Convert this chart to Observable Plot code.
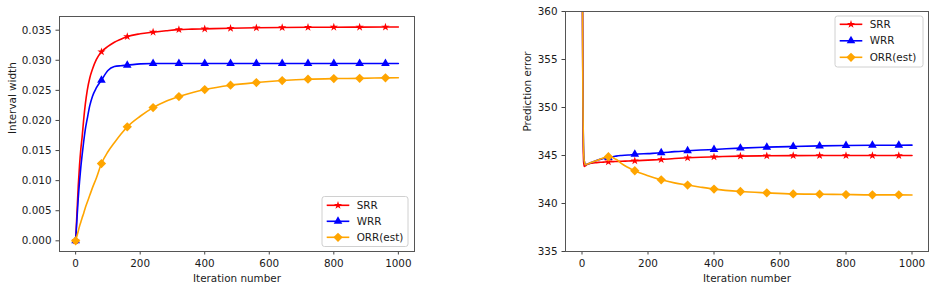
<!DOCTYPE html>
<html>
<head>
<meta charset="utf-8">
<script src="https://cdn.jsdelivr.net/npm/d3@7"></script>
<script src="https://cdn.jsdelivr.net/npm/@observablehq/plot@0.6"></script>
<style>
  html, body { margin: 0; padding: 0; background: #fff; }
  #wrap { position: relative; width: 935px; height: 289px; overflow: hidden; font-family: "DejaVu Sans", sans-serif; }
  #wrap > svg, #wrap > figure { position: absolute; top: 0; margin: 0; }
</style>
</head>
<body>
<div id="wrap"></div>
<script>
// ---------- data ----------
const seriesNames = ["SRR", "WRR", "ORR(est)"];
const seriesColors = ["red", "blue", "orange"];
const seriesSymbols = ["star", "triangle", "diamond2"];
const seriesRadius = [2.6, 3.2, 4.2];

const xTicks = [0, 200, 400, 600, 800, 1000];
const leftYTicks = [0, 0.005, 0.01, 0.015, 0.02, 0.025, 0.03, 0.035];
const rightYTicks = [335, 340, 345, 350, 355, 360];

// Left panel: interval width
const iterL = [0, 4, 8, 12, 16, 20, 25, 30, 36, 44, 52, 64, 80, 100, 120, 140, 160, 200, 240, 280, 320, 360, 400, 480, 560, 640, 720, 800, 880, 960, 1000];
const srrL = [0, 0.0045, 0.0090, 0.0125, 0.0152, 0.0172, 0.0202, 0.0227, 0.0250, 0.0271, 0.0285, 0.0301, 0.0314, 0.0323, 0.0330, 0.0335, 0.03394, 0.0344, 0.03467, 0.0349, 0.0351, 0.03517, 0.03522, 0.03532, 0.0354, 0.03545, 0.03548, 0.0355, 0.03551, 0.03552, 0.03553];
const wrrL = [0, 0.0035, 0.0070, 0.0098, 0.0122, 0.0142, 0.0165, 0.0185, 0.0203, 0.0225, 0.0240, 0.0254, 0.0267, 0.0283, 0.02895, 0.0291, 0.02918, 0.0294, 0.02946, 0.02946, 0.02946, 0.02946, 0.02946, 0.02946, 0.02946, 0.02946, 0.02946, 0.02946, 0.02946, 0.02946, 0.02946];
const orrL = [0, 0.0008, 0.0016, 0.0024, 0.0031, 0.0038, 0.0046, 0.0055, 0.0064, 0.0076, 0.0088, 0.0104, 0.01284, 0.0148, 0.0163, 0.0177, 0.01894, 0.0207, 0.02214, 0.0232, 0.02397, 0.0246, 0.02513, 0.02586, 0.0263, 0.02663, 0.02686, 0.02696, 0.0270, 0.02708, 0.0271];

// Right panel: prediction error
const iterR = [0, 1, 3, 5, 7, 11, 15, 20, 30, 40, 50, 60, 70, 80, 90, 100, 110, 120, 140, 160, 200, 240, 280, 320, 360, 400, 480, 560, 640, 720, 800, 880, 960, 1000];
const srrR = [420, 365, 348, 344.3, 343.85, 343.95, 344.05, 344.12, 344.2, 344.25, 344.28, 344.3, 344.32, 344.34, 344.36, 344.37, 344.39, 344.4, 344.43, 344.45, 344.52, 344.58, 344.68, 344.76, 344.82, 344.86, 344.94, 344.97, 344.99, 345.0, 345.0, 345.0, 345.0, 345.0];
const wrrR = [420, 365, 350, 345.5, 344.4, 344.03, 344.08, 344.15, 344.3, 344.42, 344.55, 344.65, 344.73, 344.8, 344.87, 344.92, 344.97, 345.0, 345.05, 345.12, 345.2, 345.28, 345.4, 345.49, 345.57, 345.63, 345.77, 345.87, 345.94, 346.0, 346.04, 346.06, 346.07, 346.08];
const orrR = [420, 365, 350, 345.5, 344.4, 344.03, 344.08, 344.15, 344.3, 344.42, 344.55, 344.68, 344.8, 344.87, 344.83, 344.65, 344.45, 344.15, 343.75, 343.41, 342.9, 342.47, 342.15, 341.92, 341.7, 341.5, 341.25, 341.11, 341.0, 340.97, 340.93, 340.9, 340.9, 340.88];

// ---------- helpers ----------
function rowsFor(iters, vals) {
  return iters.map((it, i) => ({it, v: vals[i]}));
}
const isMark = d => d.it % 80 === 0 && d.it <= 960;

function seriesMarks(iters, valArrays) {
  const marks = [];
  valArrays.forEach((vals, k) => {
    const rows = rowsFor(iters, vals);
    marks.push(Plot.line(rows, {x: "it", y: "v", stroke: seriesColors[k], strokeWidth: 1.6, curve: "monotone-x", clip: true}));
    marks.push(Plot.dot(rows.filter(isMark), {x: "it", y: "v", symbol: seriesSymbols[k], r: seriesRadius[k], fill: seriesColors[k], stroke: "none", clip: true}));
  });
  return marks;
}

const commonStyle = {fontFamily: "DejaVu Sans, sans-serif", fontSize: "10.4px", color: "#1a1a1a", background: "transparent", overflow: "visible"};

function panel({width, marginLeft, marginRight, marginTop, marginBottom, yDomain, yTicks, yFormat, yLabel, yLabelDx, iters, vals}) {
  return Plot.plot({
    width, height: 289, marginLeft, marginRight, marginTop, marginBottom,
    style: commonStyle,
    x: {domain: [-50, 1050]},
    y: {domain: yDomain},
    marks: [
      Plot.axisX({ticks: xTicks, tickSize: 3.5, tickPadding: 5, tickFormat: d3.format("d"), stroke: "#444", label: null}),
      Plot.axisY({ticks: yTicks, tickSize: 3.5, tickPadding: 4.5, tickFormat: yFormat, stroke: "#444", label: null}),
      ...seriesMarks(iters, vals),
      Plot.frame({stroke: "#555", strokeWidth: 1}),
      Plot.text(["Iteration number"], {text: d => d, frameAnchor: "bottom", dy: 27, lineAnchor: "middle", fill: "#1a1a1a"}),
      Plot.text([yLabel], {text: d => d, frameAnchor: "left", dx: yLabelDx, rotate: -90, lineAnchor: "middle", fill: "#1a1a1a"})
    ]
  });
}

const wrap = document.getElementById("wrap");

const left = panel({
  width: 420, marginLeft: 59, marginRight: 6, marginTop: 16, marginBottom: 38,
  yDomain: [-0.001775, 0.037275], yTicks: leftYTicks, yFormat: d3.format(".3f"),
  yLabel: "Interval width", yLabelDx: -47, iters: iterL, vals: [srrL, wrrL, orrL]
});
left.style.left = "0px";
wrap.appendChild(left);

const right = panel({
  width: 455, marginLeft: 85, marginRight: 7, marginTop: 11, marginBottom: 38,
  yDomain: [335, 360], yTicks: rightYTicks, yFormat: d3.format("d"),
  yLabel: "Prediction error", yLabelDx: -38, iters: iterR, vals: [srrR, wrrR, orrR]
});
right.style.left = "480px";
wrap.appendChild(right);

// ---------- legends ----------
const ns = "http://www.w3.org/2000/svg";
const legendSvg = document.createElementNS(ns, "svg");
legendSvg.setAttribute("width", 935);
legendSvg.setAttribute("height", 289);
legendSvg.style.left = "0px";
legendSvg.style.pointerEvents = "none";
wrap.appendChild(legendSvg);

const symbolMap = {star: d3.symbolStar, triangle: d3.symbolTriangle, diamond2: d3.symbolDiamond2};

function legend(x0, y0, w, h, rowY0, rowStep) {
  const g = document.createElementNS(ns, "g");
  const rect = document.createElementNS(ns, "rect");
  rect.setAttribute("x", x0); rect.setAttribute("y", y0);
  rect.setAttribute("width", w); rect.setAttribute("height", h);
  rect.setAttribute("rx", 2.5);
  rect.setAttribute("fill", "rgba(255,255,255,0.8)");
  rect.setAttribute("stroke", "#d0d0d0");
  rect.setAttribute("stroke-width", 1);
  g.appendChild(rect);
  seriesNames.forEach((name, k) => {
    const y = rowY0 + k * rowStep;
    const line = document.createElementNS(ns, "line");
    line.setAttribute("x1", x0 + 4.7); line.setAttribute("x2", x0 + 27.3);
    line.setAttribute("y1", y); line.setAttribute("y2", y);
    line.setAttribute("stroke", seriesColors[k]); line.setAttribute("stroke-width", 1.6);
    g.appendChild(line);
    const p = document.createElementNS(ns, "path");
    const r = seriesRadius[k];
    p.setAttribute("d", d3.symbol(symbolMap[seriesSymbols[k]], Math.PI * r * r)());
    p.setAttribute("transform", `translate(${x0 + 16},${y})`);
    p.setAttribute("fill", seriesColors[k]);
    g.appendChild(p);
    const t = document.createElementNS(ns, "text");
    t.setAttribute("x", x0 + 34.7); t.setAttribute("y", y);
    t.setAttribute("dy", "0.35em");
    t.setAttribute("font-family", "DejaVu Sans, sans-serif");
    t.setAttribute("font-size", "10.4px");
    t.setAttribute("fill", "#1a1a1a");
    t.textContent = name;
    g.appendChild(t);
  });
  legendSvg.appendChild(g);
}
legend(322, 196.5, 86, 50, 205.3, 16);
legend(835, 16, 88, 51, 24.3, 16.5);
</script>
</body>
</html>
